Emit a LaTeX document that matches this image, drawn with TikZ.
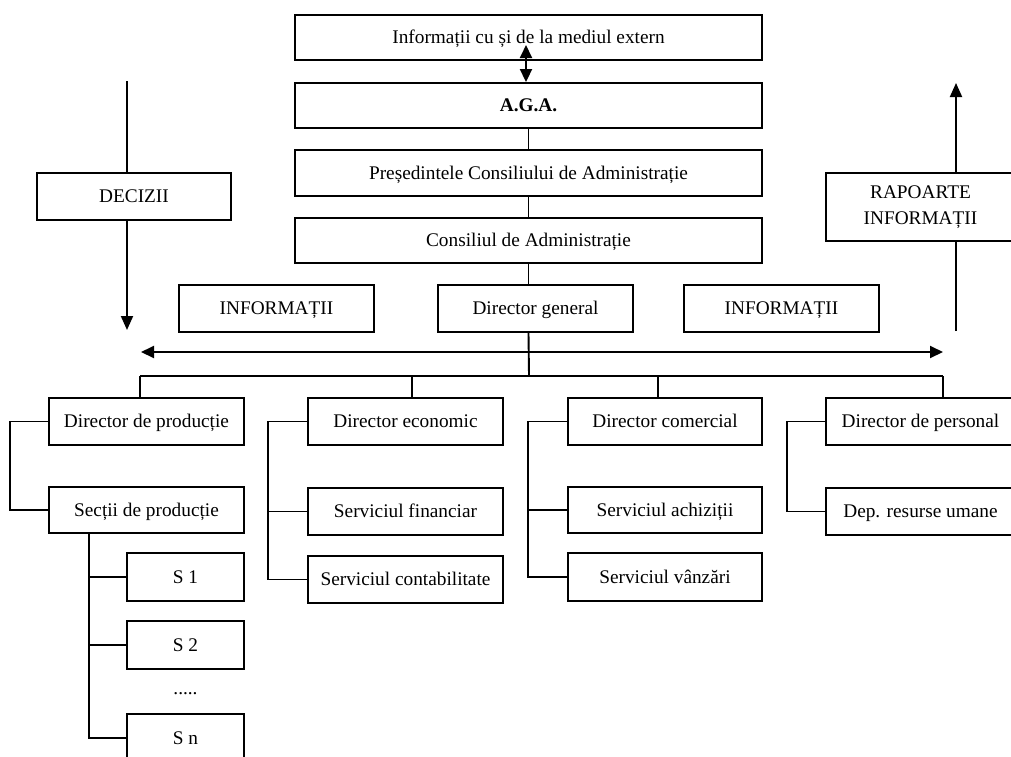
\documentclass[tikz,border=0pt]{standalone}
\usepackage{fontspec}
\setmainfont{Liberation Serif}
\usetikzlibrary{arrows.meta}
\begin{document}
\begin{tikzpicture}[x=1pt,y=-1pt,
  bx/.style={draw,line width=1.9pt,inner sep=0pt,align=center,text height=12.8pt,text depth=0pt,font=\fontsize{19.3}{26}\selectfont},
  ln/.style={line width=1.9pt},
  arr/.style={line width=1.9pt,-{Triangle[length=14pt,width=12pt]}},
  darr/.style={line width=1.9pt,{Triangle[length=13pt,width=12pt]}-{Triangle[length=13pt,width=12pt]}}]
\useasboundingbox (0,0) rectangle (1011,756);
\clip (0,0) rectangle (1011,756);
\fill[white] (0,0) rectangle (1011,756);
% top column
\node[bx,minimum width=467pt,minimum height=45pt] (ext) at (528.5,37.5) {Informații cu și de la mediul extern};
\node[bx,minimum width=467pt,minimum height=45pt] (aga) at (528.5,105.5) {\bfseries A.G.A.};
\node[bx,minimum width=467pt,minimum height=46pt] (pres) at (528.5,173) {Președintele Consiliului de Administrație};
\node[bx,minimum width=467pt,minimum height=45pt] (cons) at (528.5,240.5) {Consiliul de Administrație};
\node[bx,minimum width=194pt,minimum height=47pt] (dec) at (134,196.5) {DECIZII};
\node[bx,minimum width=195pt,minimum height=47pt] (infL) at (276.5,308.5) {INFORMAȚII};
\node[bx,minimum width=195pt,minimum height=47pt] (dg) at (535.5,308.5) {Director general};
\node[bx,minimum width=195pt,minimum height=47pt] (infR) at (781.5,308.5) {INFORMAȚII};
\node[bx,minimum width=189pt,minimum height=68pt,text height=,text depth=] (rap) at (920.5,207) {RAPOARTE\\INFORMAȚII};
% directors
\node[bx,minimum width=195pt,minimum height=47pt] (dprod) at (146.5,421.5) {Director de producție};
\node[bx,minimum width=195pt,minimum height=46pt] (sect) at (146.5,510) {Secții de producție};
\node[bx,minimum width=117pt,minimum height=48pt] (s1) at (185.5,577) {S 1};
\node[bx,minimum width=117pt,minimum height=48pt] (s2) at (185.5,645) {S 2};
\node[font=\fontsize{19.3}{24}\selectfont,inner sep=0pt] (dots) at (185.5,694) {.....};
\node[bx,minimum width=117pt,minimum height=48pt] (sn) at (185.5,738) {S n};
\node[bx,minimum width=195pt,minimum height=47pt] (decon) at (405.5,421.5) {Director economic};
\node[bx,minimum width=195pt,minimum height=47pt] (sfin) at (405.5,511.5) {Serviciul financiar};
\node[bx,minimum width=195pt,minimum height=47pt] (scont) at (405.5,579.5) {Serviciul contabilitate};
\node[bx,minimum width=194pt,minimum height=47pt] (dcom) at (665,421.5) {Director comercial};
\node[bx,minimum width=194pt,minimum height=46pt] (sach) at (665,510) {Serviciul achiziții};
\node[bx,minimum width=194pt,minimum height=48pt] (svz) at (665,577) {Serviciul vânzări};
\node[bx,minimum width=189pt,minimum height=47pt] (dpers) at (920.5,421.5) {Director de personal};
\node[bx,minimum width=189pt,minimum height=47pt] (drum) at (920.5,511.5) {Dep. resurse umane};
% coordinates
\coordinate (extin) at (526,45);
\coordinate (decTop) at (127,81);
\coordinate (decBot) at (127,330);
\coordinate (rapTop) at (956,83);
\coordinate (rapBot) at (956,331);
\coordinate (haL) at (141,352);
\coordinate (haR) at (943,352);
\coordinate (busL) at (140,376);
\coordinate (busR) at (943,376);
\coordinate (spine) at (529,376);
\coordinate (bE) at (412,376);
\coordinate (bC) at (658,376);
\coordinate (sv) at (89,533);
% top connectors
\draw[darr] (extin) -- (extin |- aga.north);
\draw[ln] (aga.south) -- (pres.north);
\draw[ln] (pres.south) -- (cons.north);
\draw[ln] (cons.south) -- (cons.south |- dg.north);
\draw[ln] (cons.south |- dg.south) -- (spine);
% side arrows
\draw[ln] (decTop) -- (decTop |- dec.north);
\draw[arr] (decTop |- dec.south) -- (decBot);
\draw[ln] (rapBot) -- (rapBot |- rap.south);
\draw[arr] (rapBot |- rap.north) -- (rapTop);
\draw[darr] (haL) -- (haR);
% bus
\draw[ln] (busL) -- (busR);
\draw[ln] (busL) -- (busL |- dprod.north);
\draw[ln] (bE) -- (bE |- decon.north);
\draw[ln] (bC) -- (bC |- dcom.north);
\draw[ln] (busR) -- (busR |- dpers.north);
% production
\draw[ln] (dprod.west) -- ++(-38,0) |- (sect.west);
\draw[ln] (sv) |- (sn.west);
\draw[ln] (sv |- s1.west) -- (s1.west);
\draw[ln] (sv |- s2.west) -- (s2.west);
% economic
\draw[ln] (decon.west) -- ++(-39,0) |- (scont.west);
\draw[ln] (sfin.west) -- ++(-39,0);
% comercial
\draw[ln] (dcom.west) -- ++(-39,0) |- (svz.west);
\draw[ln] (sach.west) -- ++(-39,0);
% personal
\draw[ln] (dpers.west) -- ++(-38,0) |- (drum.west);
\end{tikzpicture}
\end{document}
